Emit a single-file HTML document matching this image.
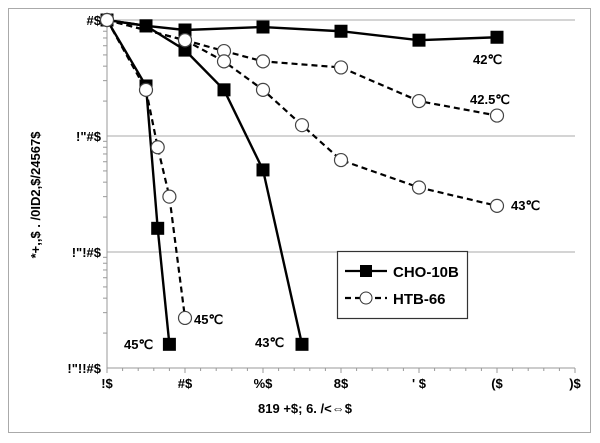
<!DOCTYPE html>
<html><head><meta charset="utf-8"><style>
body{margin:0;background:#fff;}
svg{display:block;font-family:"Liberation Sans",sans-serif;}
</style></head><body>
<svg width="600" height="443">
<rect x="8.5" y="8.5" width="582" height="424" fill="#fff" stroke="#aaa"/>
<g id="grid"></g><g id="axes"></g><g id="series"></g>
<g>
<rect x="337.5" y="251.5" width="130" height="67" fill="#fff" stroke="#333" stroke-width="1.2"/>
<line x1="345" y1="271" x2="387" y2="271" stroke="#000" stroke-width="2.2"/>
<rect x="360" y="265" width="12" height="12" fill="#000"/>
<text x="393" y="277" font-size="15" font-weight="bold">CHO-10B</text>
<line x1="345" y1="298" x2="387" y2="298" stroke="#000" stroke-width="2.2" stroke-dasharray="6,4"/>
<circle cx="366" cy="298" r="6" fill="#fff" stroke="#333"/>
<text x="393" y="304" font-size="15" font-weight="bold">HTB-66</text>
</g>
<g font-size="13" font-weight="bold">
<text x="473" y="64">42℃</text>
<text x="470" y="104">42.5℃</text>
<text x="511" y="210">43℃</text>
<text x="255" y="347">43℃</text>
<text x="124" y="349">45℃</text>
<text x="194" y="324">45℃</text>
</g>
<text x="40" y="195" font-size="13" font-weight="bold" text-anchor="middle" transform="rotate(-90 40 195)">*+,,$ . /0ID2,$/24567$</text>
<text x="305" y="413" font-size="13" font-weight="bold" text-anchor="middle">819 +$; 6. /&lt;⇔$</text>
</svg>
<script>
const xTicks=[0,10,20,30,40,50,60];
const xTickLabels=["!$","#$","%$","8$","' $","($",")$"];
const yTicks=[1,0.1,0.01,0.001];
const yTickLabels=["#$","!\"#$","!\"!#$","!\"!!#$"];
const cho42X=[0,5,10,20,30,40,50], cho42Y=[1,0.89,0.82,0.87,0.80,0.67,0.71];
const cho43X=[0,5,10,15,20,25], cho43Y=[1,0.89,0.55,0.25,0.051,0.0016];
const cho45X=[0,5,6.5,8], cho45Y=[1,0.27,0.016,0.0016];
const htb425X=[0,10,15,20,30,40,50], htb425Y=[1,0.67,0.54,0.44,0.39,0.20,0.15];
const htb43X=[0,10,15,20,25,30,40,50], htb43Y=[1,0.67,0.44,0.25,0.124,0.062,0.036,0.025];
const htb45X=[0,5,6.5,8,10], htb45Y=[1,0.25,0.08,0.03,0.0027];

const NS="http://www.w3.org/2000/svg";
const X0=107,X1=575,Y0=20,Y1=368;
function sx(v){return X0+(v-0)/(60-0)*(X1-X0);}
function sy(v){return Y0+(-Math.log10(v))/3*(Y1-Y0);}
function mk(tag,attrs,parent){const e=document.createElementNS(NS,tag);for(const k in attrs)e.setAttribute(k,attrs[k]);document.getElementById(parent).appendChild(e);return e;}
yTicks.forEach((v,i)=>{
  if(i<3){const g=mk('line',{x1:X0,x2:X1,y1:sy(v),y2:sy(v),stroke:'#aaa','stroke-width':1},'grid');
  
  }
  const t=mk('text',{x:X0-6,y:sy(v)+5,'font-size':13,'font-weight':'bold','text-anchor':'end'},'axes');
  t.textContent=yTickLabels[i];
  
  
  if(i<3){for(let k=2;k<=9;k++){const yy=sy(v/10*k);mk('line',{x1:X0-4,x2:X0,y1:yy,y2:yy,stroke:'#999'},'axes');}}
});
mk('line',{x1:X0,x2:X0,y1:Y0,y2:Y1,stroke:'#999'},'axes');
mk('line',{x1:X0,x2:X1,y1:Y1,y2:Y1,stroke:'#999'},'axes');
xTicks.forEach((v,i)=>{
  const t=mk('text',{x:sx(v),y:Y1+20,'font-size':13,'font-weight':'bold','text-anchor':'middle'},'axes');
  t.textContent=xTickLabels[i];
  
  
  mk('line',{x1:sx(v),x2:sx(v),y1:Y1,y2:Y1+5,stroke:'#999'},'axes');
  if(i<xTicks.length-1)for(let k=1;k<5;k++){mk('line',{x1:sx(v+2*k),x2:sx(v+2*k),y1:Y1,y2:Y1+3,stroke:'#999'},'axes');}
});
function series(xs,ys,name,dashed){
  const pts=xs.map((x,i)=>sx(x)+','+sy(ys[i])).join(' ');
  const p=mk('polyline',{points:pts,fill:'none',stroke:'#000','stroke-width':dashed?2.2:2.4,'stroke-dasharray':dashed?'6,4':'none'},'series');
  
  
  xs.forEach((x,i)=>{
    let m;
    if(dashed) m=mk('circle',{cx:sx(x),cy:sy(ys[i]),r:6.5,fill:'#fff',stroke:'#444','stroke-width':1.2},'series');
    else m=mk('rect',{x:sx(x)-6.5,y:sy(ys[i])-6.5,width:13,height:13,fill:'#000'},'series');
    
    
  });
}
series(cho42X,cho42Y,'cho-42',false);
series(cho43X,cho43Y,'cho-43',false);
series(cho45X,cho45Y,'cho-45',false);
series(htb425X,htb425Y,'htb-42-5',true);
series(htb43X,htb43Y,'htb-43',true);
series(htb45X,htb45Y,'htb-45',true);
</script>
</body></html>
